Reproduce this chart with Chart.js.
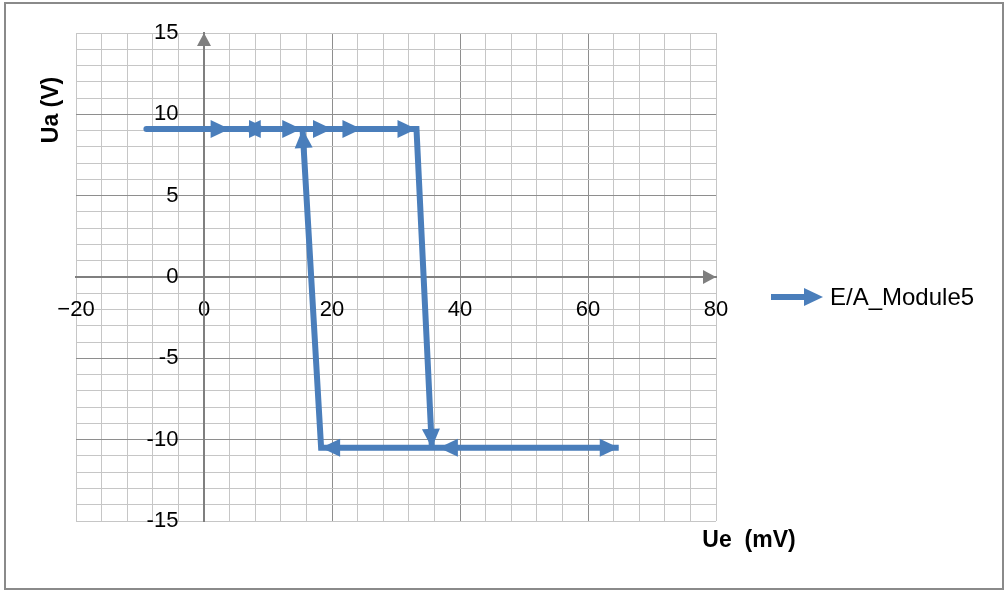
<!DOCTYPE html>
<html>
<head>
<meta charset="utf-8">
<script src="https://cdn.jsdelivr.net/npm/chart.js@4"></script>
<style>
  html, body { margin: 0; padding: 0; background: #fff; }
  #wrap { width: 1006px; height: 592px; position: relative; }
</style>
</head>
<body>
<div id="wrap"><canvas id="c" width="1006" height="592"></canvas></div>
<script>
// Hysteresis loop of the module: input voltage Ue (mV) vs output voltage Ua (V)
const seriesName = 'E/A_Module5';
const ue = [-9, 4, 10, 15.2, 20, 24.6, 33.2, 35.6, 64.8, 36.7, 18.3, 15.4, 5.9];
const ua = [9.1, 9.1, 9.1, 9.1, 9.1, 9.1, 9.1, -10.5, -10.5, -10.5, -10.5, 9.1, 9.1];

const xTicks = [-20, 0, 20, 40, 60, 80];
const xTickLabels = ['\u221220', '0', '20', '40', '60', '80'];
const yTicks = [-15, -10, -5, 0, 5, 10, 15];
const yTickLabels = ['-15', '-10', '-5', '0', '5', '10', '15'];

const xTitle = 'Ue  (mV)';
const yTitle = 'Ua (V)';

const BLUE = '#4a7ebb';
const AXIS = '#7f7f7f';
const MAJOR = '#8e8e8e';
const MINOR = '#c6c6c6';
const FONT = '"Liberation Sans", Arial, sans-serif';

const points = ue.map((x, i) => ({ x, y: ua[i] }));

function arrowHead(ctx, tipX, tipY, angle, len, half, color) {
  ctx.save();
  ctx.translate(tipX, tipY);
  ctx.rotate(angle);
  ctx.beginPath();
  ctx.moveTo(0, 0);
  ctx.lineTo(-len, -half);
  ctx.lineTo(-len, half);
  ctx.closePath();
  ctx.fillStyle = color;
  ctx.fill();
  ctx.restore();
}

const decor = {
  id: 'decor',
  beforeDatasetsDraw(chart) {
    const { ctx, scales: { x, y } } = chart;
    // arrow tips on the two axes
    arrowHead(ctx, x.getPixelForValue(80), y.getPixelForValue(0), 0, 13, 7, AXIS);
    arrowHead(ctx, x.getPixelForValue(0), y.getPixelForValue(15), -Math.PI / 2, 13, 7, AXIS);
  },
  afterDatasetsDraw(chart) {
    const { ctx } = chart;
    chart.data.datasets.forEach((ds, di) => {
      const els = chart.getDatasetMeta(di).data;
      for (let i = 1; i < els.length; i++) {
        const a = els[i - 1], b = els[i];
        const ang = Math.atan2(b.y - a.y, b.x - a.x);
        arrowHead(ctx, b.x, b.y, ang, 19, 9, ds.borderColor);
      }
    });
  },
  afterDraw(chart) {
    const { ctx } = chart;
    ctx.save();
    // outer frame
    ctx.strokeStyle = '#8a8a8a';
    ctx.lineWidth = 2;
    ctx.strokeRect(5, 3, 998, 586);

    // axis titles
    ctx.fillStyle = '#000';
    ctx.font = 'bold 23px ' + FONT;
    ctx.textAlign = 'center';
    ctx.textBaseline = 'middle';
    ctx.fillText(xTitle, 749, 541);
    ctx.save();
    ctx.translate(52, 110);
    ctx.rotate(-Math.PI / 2);
    ctx.fillText(yTitle, 0, 0);
    ctx.restore();

    // legend entry
    const ds = chart.data.datasets[0];
    const ly = 297;
    ctx.strokeStyle = ds.borderColor;
    ctx.lineWidth = 6;
    ctx.beginPath();
    ctx.moveTo(771, ly);
    ctx.lineTo(812, ly);
    ctx.stroke();
    arrowHead(ctx, 823, ly, 0, 19, 9, ds.borderColor);
    ctx.fillStyle = '#000';
    ctx.font = '24px ' + FONT;
    ctx.textAlign = 'left';
    ctx.fillText(ds.label, 830, ly + 1);
    ctx.restore();
  }
};

const tickFont = { family: FONT, size: 22 };

new Chart(document.getElementById('c'), {
  type: 'scatter',
  data: {
    datasets: [{
      label: seriesName,
      data: points,
      showLine: true,
      borderColor: BLUE,
      backgroundColor: BLUE,
      borderWidth: 6,
      borderCapStyle: 'round',
      borderJoinStyle: 'miter',
      pointRadius: 0,
      pointHoverRadius: 0,
      tension: 0
    }]
  },
  options: {
    responsive: false,
    devicePixelRatio: 1,
    animation: false,
    layout: { padding: { left: 76, top: 33, right: 290, bottom: 71 } },
    plugins: { legend: { display: false }, tooltip: { enabled: false } },
    scales: {
      x: {
        type: 'linear',
        position: { y: 0 },
        min: -20, max: 80,
        ticks: {
          stepSize: 4, autoSkip: false, maxRotation: 0, padding: 20,
          color: '#000', font: tickFont,
          callback: (v) => { const i = xTicks.indexOf(v); return i >= 0 ? xTickLabels[i] : ''; }
        },
        grid: {
          drawTicks: false, lineWidth: 1,
          color: (c) => [0, 20, 40, 60].includes(c.tick && c.tick.value) ? MAJOR : MINOR
        },
        border: { display: true, color: AXIS, width: 2 }
      },
      y: {
        type: 'linear',
        position: { x: 0 },
        min: -15, max: 15,
        ticks: { stepSize: 1, display: false },
        grid: {
          drawTicks: false, lineWidth: 1,
          color: (c) => [-10, -5, 5, 10].includes(c.tick && c.tick.value) ? MAJOR : MINOR
        },
        border: { display: true, color: AXIS, width: 2 }
      },
      // value labels of the vertical axis, set a little to the left of it
      yLabels: {
        type: 'linear',
        axis: 'y',
        position: { x: -4 },
        min: -15, max: 15,
        ticks: {
          stepSize: 5, autoSkip: false, color: '#000', font: tickFont,
          callback: (v) => { const i = yTicks.indexOf(v); return i >= 0 ? yTickLabels[i] : ''; }
        },
        grid: { display: false, drawTicks: false },
        border: { display: false }
      }
    }
  },
  plugins: [decor]
});
</script>
</body>
</html>
